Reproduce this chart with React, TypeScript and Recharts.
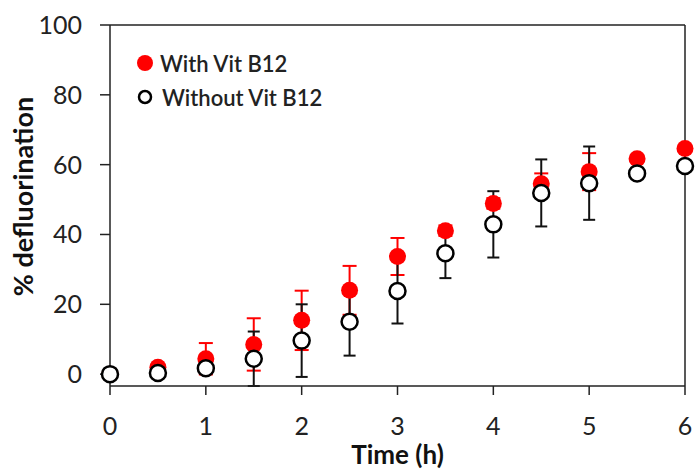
import React from 'react';
import {
  ScatterChart,
  Scatter,
  XAxis,
  YAxis,
  ErrorBar,
  ReferenceLine,
  Legend,
} from 'recharts';

const times = [0, 0.5, 1, 1.5, 2, 2.5, 3, 3.5, 4, 4.5, 5, 5.5, 6];
const withB12 = [0, 2, 4.4, 8.5, 15.4, 24, 33.7, 41.1, 48.9, 54.5, 58, 61.7, 64.6];
const withB12Err = [0, 0.5, 4.5, 7.5, 8.5, 7, 5.3, 1.5, 1.5, 3, 5.3, 1, 1];
const withoutB12 = [0, 0.3, 1.7, 4.4, 9.6, 15, 23.8, 34.6, 42.9, 51.9, 54.7, 57.5, 59.6];
const withoutB12Err = [0, 0.5, 1, 7.8, 10.4, 9.7, 9.3, 7.1, 9.5, 9.6, 10.5, 1, 1];
const xTicks = [0, 1, 2, 3, 4, 5, 6];
const yTicks = [0, 20, 40, 60, 80, 100];

const withData = times.map((t, i) => ({ t, v: withB12[i], e: withB12Err[i] }));
const withoutData = times.map((t, i) => ({ t, v: withoutB12[i], e: withoutB12Err[i] }));

const FONT = 'Lato, sans-serif';
const AXIS = '#222';

const RedDot = (props: any) => <circle cx={props.cx} cy={props.cy} r={8.5} fill="#ff0000" />;
const OpenDot = (props: any) => (
  <circle cx={props.cx} cy={props.cy} r={8} fill="#fff" stroke="#000" strokeWidth={2.5} />
);

function LegendBox() {
  const row: React.CSSProperties = { display: 'flex', alignItems: 'center', height: 34 };
  const txt: React.CSSProperties = { fontFamily: FONT, fontSize: 22, fontWeight: 600, color: '#222', marginLeft: 6 };
  return (
    <div>
      <div style={row}>
        <svg width={18} height={18}><circle cx={9} cy={9} r={8} fill="#ff0000" /></svg>
        <span style={txt}>With Vit B12</span>
      </div>
      <div style={row}>
        <svg width={18} height={18}><circle cx={9} cy={9} r={6} fill="#fff" stroke="#000" strokeWidth={2.5} /></svg>
        <span style={{ ...txt, marginLeft: 8 }}>Without Vit B12</span>
      </div>
    </div>
  );
}

// rotated y title, a bit above the plot centre like the original
const YTitle = (props: any) => {
  const vb = props.viewBox || {};
  const x = (vb.x || 0) + 22;
  const y = (vb.y || 0) + (vb.height || 0) / 2 - 9;
  return (
    <text
      x={x}
      y={y}
      transform={`rotate(-90 ${x} ${y})`}
      textAnchor="middle"
      dominantBaseline="central"
      style={{ fontSize: 27, fontWeight: 700, fill: '#111', fontFamily: FONT }}
    >
      % defluorination
    </text>
  );
};

export default function App() {
  return (
    <div style={{ position: 'absolute', left: 0, top: 0, background: '#fff' }}>
      <ScatterChart width={698} height={470} margin={{ top: 25, right: 13, bottom: 0, left: 0 }}>
        <XAxis
          type="number"
          dataKey="t"
          domain={[0, 6]}
          ticks={xTicks}
          stroke={AXIS}
          strokeWidth={1.5}
          tickSize={9}
          tickMargin={22}
          height={84}
          tick={{ fontSize: 25, fill: '#222', fontFamily: FONT }}
          label={{
            value: 'Time (h)',
            position: 'insideBottom',
            offset: 6,
            style: { fontSize: 26, fontWeight: 700, fill: '#111', fontFamily: FONT },
          }}
        />
        <YAxis
          type="number"
          dataKey="v"
          domain={[0, 100]}
          ticks={yTicks}
          stroke={AXIS}
          strokeWidth={1.5}
          tickSize={10}
          tickMargin={18}
          width={110}
          tick={{ fontSize: 25, fill: '#222', fontFamily: FONT }}
          label={<YTitle />}
        />
        <ReferenceLine y={100} stroke={AXIS} strokeWidth={1.5} />
        <ReferenceLine x={6} stroke={AXIS} strokeWidth={1.5} />
        <Legend
          layout="vertical"
          verticalAlign="middle"
          align="center"
          content={() => <LegendBox />}
          wrapperStyle={{ top: 46, left: 136, width: 'auto', height: 'auto' }}
        />
        <Scatter data={withData} shape={RedDot} isAnimationActive={false}>
          <ErrorBar dataKey="e" direction="y" width={7} stroke="#ff0000" strokeWidth={2} />
        </Scatter>
        <Scatter data={withoutData} shape={OpenDot} isAnimationActive={false}>
          <ErrorBar dataKey="e" direction="y" width={6} stroke="#111" strokeWidth={2} />
        </Scatter>
      </ScatterChart>
    </div>
  );
}
